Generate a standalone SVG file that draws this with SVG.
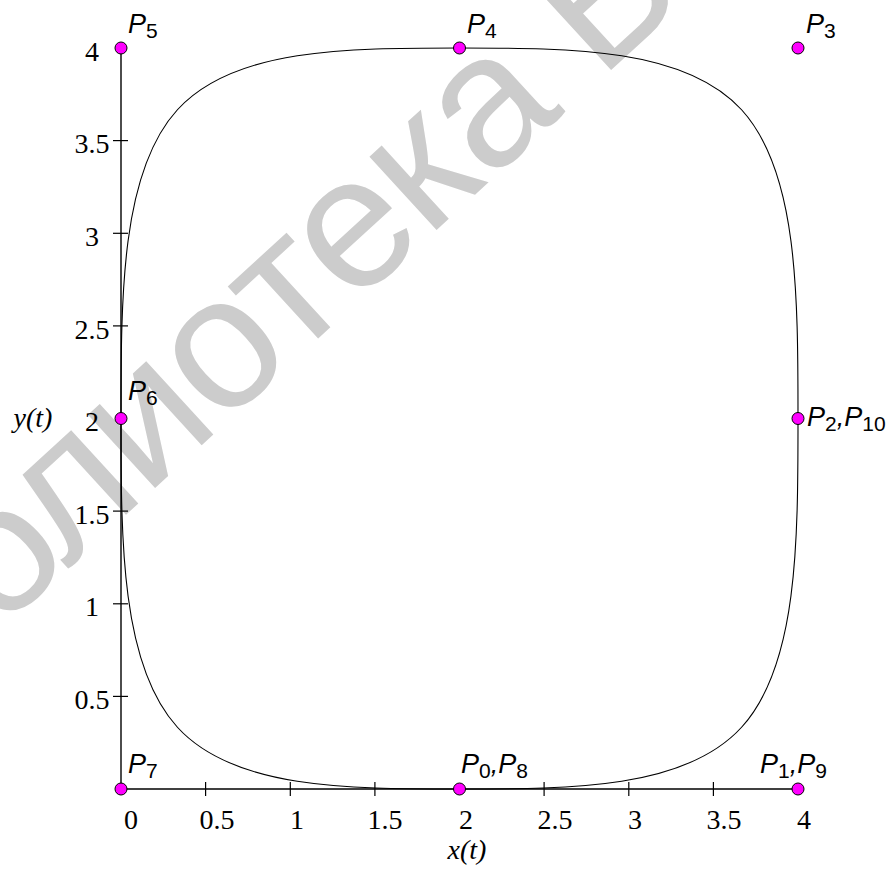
<svg xmlns="http://www.w3.org/2000/svg" width="891" height="870" viewBox="0 0 891 870">
<style>
.wm{font-family:"Liberation Sans",Arial,sans-serif;font-size:188px;fill:#cccccc;letter-spacing:-3px}
.axis{stroke:#000;stroke-width:1.4;fill:none}
.tick{stroke:#000;stroke-width:1.2}
.curve{stroke:#000;stroke-width:1.1;fill:none}
.num{font-family:"Liberation Serif","Times New Roman",serif;font-size:28px;fill:#000}
.ax{font-family:"Liberation Serif","Times New Roman",serif;font-size:28px;font-style:italic;fill:#000}
.lbl{font-family:"Liberation Sans",Arial,sans-serif;font-size:27px;font-style:italic;fill:#000}
.sub{font-size:21px;font-style:normal}
.pt{fill:#ff00ff;stroke:#000;stroke-width:1}
</style>
<rect width="891" height="870" fill="#fff"/>
<g id="watermark">
<text class="wm" transform="translate(-168,784) rotate(-42.5)">Библиотека БГУИР</text>
</g>
<g id="axes">
<line class="axis" x1="121" y1="48" x2="121" y2="789"/>
<line class="axis" x1="121" y1="789" x2="798" y2="789"/>
<g class="tick">
<line x1="113" y1="140.6" x2="128" y2="140.6"/>
<line x1="113" y1="233.3" x2="128" y2="233.3"/>
<line x1="113" y1="325.9" x2="128" y2="325.9"/>
<line x1="113" y1="511.1" x2="128" y2="511.1"/>
<line x1="113" y1="603.8" x2="128" y2="603.8"/>
<line x1="113" y1="696.4" x2="128" y2="696.4"/>
<line x1="205.6" y1="782" x2="205.6" y2="796"/>
<line x1="290.3" y1="782" x2="290.3" y2="796"/>
<line x1="374.9" y1="782" x2="374.9" y2="796"/>
<line x1="544.1" y1="782" x2="544.1" y2="796"/>
<line x1="628.8" y1="782" x2="628.8" y2="796"/>
<line x1="713.4" y1="782" x2="713.4" y2="796"/>
</g>
<g class="num" text-anchor="middle">
<text x="92" y="61">4</text>
<text x="92" y="153">3.5</text>
<text x="92" y="246">3</text>
<text x="92" y="339">2.5</text>
<text x="92" y="431">2</text>
<text x="92" y="524">1.5</text>
<text x="92" y="616">1</text>
<text x="92" y="709">0.5</text>
<text x="131" y="829">0</text>
<text x="217" y="829">0.5</text>
<text x="297" y="829">1</text>
<text x="385" y="829">1.5</text>
<text x="466" y="829">2</text>
<text x="555" y="829">2.5</text>
<text x="635" y="829">3</text>
<text x="724" y="829">3.5</text>
<text x="804" y="829">4</text>
</g>
<text class="ax" x="467" y="859" text-anchor="middle">x(t)</text>
<text class="ax" x="33" y="427" text-anchor="middle">y(t)</text>
</g>
<g id="connectors">
<path class="curve" d="M459.5,789 C572.33,789 685.17,789 741.58,727.25 C798,665.5 798,542 798,418.5 C798,295 798,171.5 741.58,109.75 C685.17,48 572.33,48 459.5,48 C346.67,48 233.83,48 177.42,109.75 C121,171.5 121,295 121,418.5 C121,542 121,665.5 177.42,727.25 C233.83,789 346.67,789 459.5,789 Z"/>
</g>
<g id="P0"><circle class="pt" cx="459.5" cy="789" r="6"/><text class="lbl" x="461" y="773">P<tspan class="sub" dy="5">0</tspan><tspan dy="-5">,P</tspan><tspan class="sub" dy="5">8</tspan></text></g>
<g id="P1"><circle class="pt" cx="798" cy="789" r="6"/><text class="lbl" x="760" y="773">P<tspan class="sub" dy="5">1</tspan><tspan dy="-5">,P</tspan><tspan class="sub" dy="5">9</tspan></text></g>
<g id="P2"><circle class="pt" cx="798" cy="418.5" r="6"/><text class="lbl" x="807" y="426">P<tspan class="sub" dy="5">2</tspan><tspan dy="-5">,P</tspan><tspan class="sub" dy="5">10</tspan></text></g>
<g id="P3"><circle class="pt" cx="798" cy="48" r="6"/><text class="lbl" x="806" y="33">P<tspan class="sub" dy="5">3</tspan></text></g>
<g id="P4"><circle class="pt" cx="459.5" cy="48" r="6"/><text class="lbl" x="467" y="33">P<tspan class="sub" dy="5">4</tspan></text></g>
<g id="P5"><circle class="pt" cx="121" cy="48" r="6"/><text class="lbl" x="128" y="33">P<tspan class="sub" dy="5">5</tspan></text></g>
<g id="P6"><circle class="pt" cx="121" cy="418.5" r="6"/><text class="lbl" x="128" y="400">P<tspan class="sub" dy="5">6</tspan></text></g>
<g id="P7"><circle class="pt" cx="121" cy="789" r="6"/><text class="lbl" x="128" y="773">P<tspan class="sub" dy="5">7</tspan></text></g>
</svg>
